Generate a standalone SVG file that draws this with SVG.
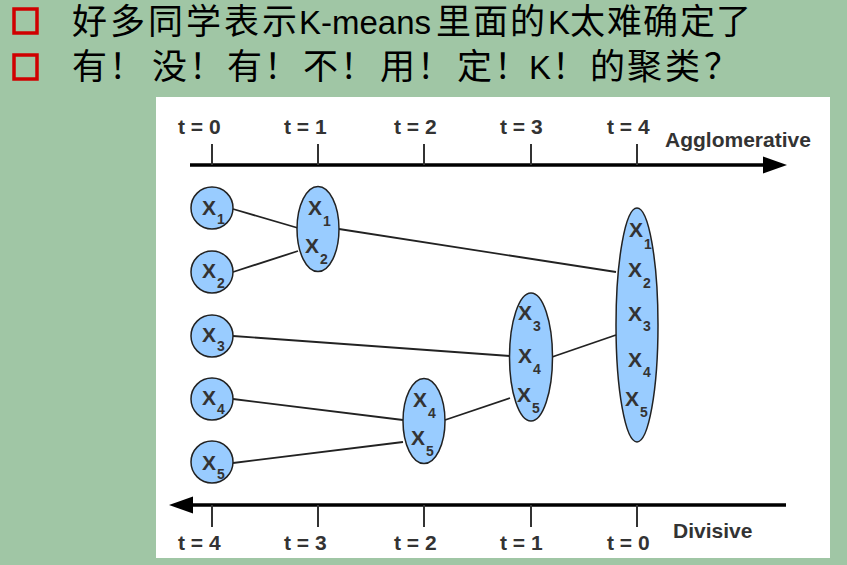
<svg xmlns="http://www.w3.org/2000/svg" width="847" height="565" viewBox="0 0 847 565">
<defs>
<style>
.cjk{font-family:"Noto Sans CJK SC","Noto Sans",sans-serif;font-size:35px;fill:#000}
.lat{font-family:"Liberation Sans",Arial,sans-serif;font-size:33px;fill:#000}
.lbl{font-family:"Liberation Sans",Arial,sans-serif;font-weight:bold;font-size:21px;fill:#333}
.nx{font-family:"Liberation Sans",Arial,sans-serif;font-weight:bold;font-size:21px;fill:#333}
.sub{font-size:14px}
.node{fill:#99ccff;stroke:#222;stroke-width:1.5}
.edge{stroke:#222;stroke-width:1.8;fill:none}
.tick{stroke:#333;stroke-width:2}
.axis{stroke:#000;stroke-width:3.5}
.box{fill:none;stroke:#d00000;stroke-width:3.5}
</style>
</defs>
<rect width="847" height="565" fill="#a0c6a5"/>
<g id="header">
<rect class="box" x="14" y="9" width="23" height="24"/>
<rect class="box" x="14" y="55" width="23" height="24"/>
<text class="cjk" y="34"><tspan x="72">好</tspan><tspan x="110">多</tspan><tspan x="148">同</tspan><tspan x="186">学</tspan><tspan x="224">表</tspan><tspan x="262">示</tspan><tspan class="lat" x="299">K-means</tspan><tspan x="436">里</tspan><tspan x="473">面</tspan><tspan x="510">的</tspan><tspan class="lat" x="548">K</tspan><tspan x="570">太</tspan><tspan x="607">难</tspan><tspan x="643">确</tspan><tspan x="680">定</tspan><tspan x="716">了</tspan></text>
<text class="cjk" y="79"><tspan x="72">有</tspan><tspan x="109">！</tspan><tspan x="152">没</tspan><tspan x="189">！</tspan><tspan x="227">有</tspan><tspan x="264">！</tspan><tspan x="303">不</tspan><tspan x="340">！</tspan><tspan x="380">用</tspan><tspan x="417">！</tspan><tspan x="457">定</tspan><tspan x="494">！</tspan><tspan class="lat" x="529">K</tspan><tspan x="552">！</tspan><tspan x="590">的</tspan><tspan x="627">聚</tspan><tspan x="665">类</tspan><tspan x="704">？</tspan></text>
</g>
<rect x="156" y="97" width="674" height="461" fill="#fff"/>
<g id="axes">
<line class="axis" x1="190" y1="165" x2="766" y2="165"/>
<polygon points="787,165 763,156.5 763,173.5" fill="#000"/>
<line class="axis" x1="190" y1="505" x2="786" y2="505"/>
<polygon points="169,505 193,496.5 193,513.5" fill="#000"/>
<g class="tick">
<line x1="212" y1="144" x2="212" y2="165"/><line x1="318" y1="144" x2="318" y2="165"/><line x1="424" y1="144" x2="424" y2="165"/><line x1="531" y1="144" x2="531" y2="165"/><line x1="637" y1="144" x2="637" y2="165"/>
<line x1="212" y1="505" x2="212" y2="527"/><line x1="318" y1="505" x2="318" y2="527"/><line x1="424" y1="505" x2="424" y2="527"/><line x1="531" y1="505" x2="531" y2="527"/><line x1="637" y1="505" x2="637" y2="527"/>
</g>
<g class="lbl">
<text x="178" y="134">t = 0</text><text x="284" y="134">t = 1</text><text x="394" y="134">t = 2</text><text x="500" y="134">t = 3</text><text x="607" y="134">t = 4</text>
<text x="178" y="550">t = 4</text><text x="284" y="550">t = 3</text><text x="394" y="550">t = 2</text><text x="500" y="550">t = 1</text><text x="607" y="550">t = 0</text>
</g>
<text class="lbl" x="665" y="147">Agglomerative</text>
<text class="lbl" x="673" y="538">Divisive</text>
</g>
<g id="connectors">
<line class="edge" x1="233" y1="209" x2="298" y2="228"/>
<line class="edge" x1="233" y1="272" x2="298" y2="251"/>
<line class="edge" x1="339" y1="229" x2="616" y2="272"/>
<line class="edge" x1="233" y1="336" x2="510" y2="356"/>
<line class="edge" x1="233" y1="399" x2="403" y2="420"/>
<line class="edge" x1="233" y1="463" x2="403" y2="442"/>
<line class="edge" x1="445" y1="420" x2="510" y2="398"/>
<line class="edge" x1="552" y1="357" x2="616" y2="335"/>
</g>
<g id="n1"><circle class="node" cx="212" cy="208" r="21"/><text class="nx" x="202" y="215">X<tspan class="sub" x="217" y="224">1</tspan></text></g>
<g id="n2"><circle class="node" cx="212" cy="272" r="21"/><text class="nx" x="202" y="278">X<tspan class="sub" x="217" y="288">2</tspan></text></g>
<g id="n3"><circle class="node" cx="212" cy="336" r="21"/><text class="nx" x="202" y="342">X<tspan class="sub" x="217" y="351">3</tspan></text></g>
<g id="n4"><circle class="node" cx="212" cy="399" r="21"/><text class="nx" x="202" y="405">X<tspan class="sub" x="217" y="414">4</tspan></text></g>
<g id="n5"><circle class="node" cx="212" cy="462" r="21"/><text class="nx" x="202" y="470">X<tspan class="sub" x="217" y="479">5</tspan></text></g>
<g id="c12"><ellipse class="node" cx="318" cy="229" rx="21" ry="42.5"/>
<text class="nx" x="308" y="215">X<tspan class="sub" x="323" y="226">1</tspan></text>
<text class="nx" x="305" y="253">X<tspan class="sub" x="320" y="264">2</tspan></text></g>
<g id="c45"><ellipse class="node" cx="424" cy="421" rx="21" ry="42.5"/>
<text class="nx" x="413" y="407">X<tspan class="sub" x="428" y="418">4</tspan></text>
<text class="nx" x="411" y="445">X<tspan class="sub" x="426" y="456">5</tspan></text></g>
<g id="c345"><ellipse class="node" cx="531" cy="357" rx="21.5" ry="64"/>
<text class="nx" x="518" y="320">X<tspan class="sub" x="533" y="331">3</tspan></text>
<text class="nx" x="518" y="363">X<tspan class="sub" x="533" y="374">4</tspan></text>
<text class="nx" x="517" y="402">X<tspan class="sub" x="532" y="413">5</tspan></text></g>
<g id="c12345"><ellipse class="node" cx="637" cy="325" rx="21" ry="117"/>
<text class="nx" x="629" y="237">X<tspan class="sub" x="644" y="249">1</tspan></text>
<text class="nx" x="628" y="277">X<tspan class="sub" x="643" y="288">2</tspan></text>
<text class="nx" x="628" y="321">X<tspan class="sub" x="643" y="331">3</tspan></text>
<text class="nx" x="628" y="367">X<tspan class="sub" x="643" y="377">4</tspan></text>
<text class="nx" x="625" y="406">X<tspan class="sub" x="640" y="417">5</tspan></text></g>
</svg>
